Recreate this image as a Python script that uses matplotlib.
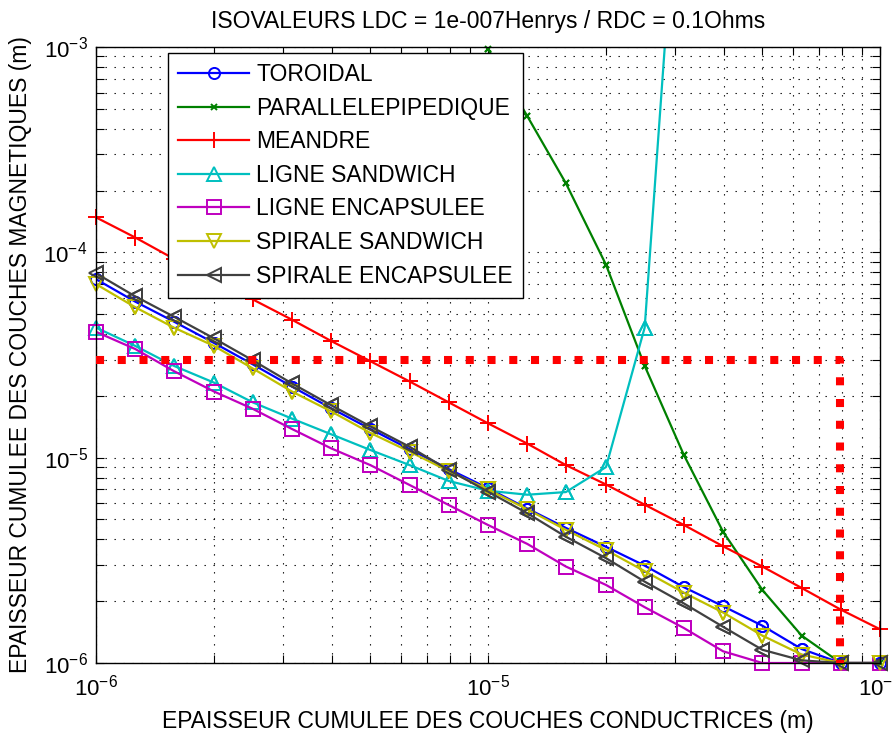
import numpy as np
import matplotlib
matplotlib.use('Agg')
import matplotlib.pyplot as plt

plt.rcParams['font.family'] = ['Liberation Sans', 'DejaVu Sans']
plt.rcParams['axes.unicode_minus'] = False

nan = np.nan
# abscissa: cumulated conductor thickness (m)
x_cond = [1.0e-6, 1.26e-6, 1.58e-6, 2.0e-6, 2.51e-6, 3.16e-6, 3.98e-6, 5.01e-6, 6.31e-6, 7.94e-6,
          1.0e-5, 1.26e-5, 1.58e-5, 2.0e-5, 2.51e-5, 3.16e-5, 3.98e-5, 5.01e-5, 6.31e-5, 7.94e-5, 1.0e-4]

toroidal = [7.4e-5, 5.75e-5, 4.6e-5, 3.62e-5, 2.85e-5, 2.22e-5, 1.74e-5, 1.38e-5, 1.1e-5, 8.8e-6,
            7.1e-6, 5.65e-6, 4.55e-6, 3.68e-6, 2.98e-6, 2.34e-6, 1.89e-6, 1.52e-6, 1.17e-6, 1.0e-6, 1.0e-6]
parallelepipedique = [nan, nan, nan, nan, nan, nan, nan, nan, nan, nan,
                      9.8e-4, 4.6e-4, 2.17e-4, 8.7e-5, 2.8e-5, 1.03e-5, 4.35e-6, 2.27e-6, 1.36e-6, 1.0e-6, 1.0e-6]
meandre = [1.48e-4, 1.18e-4, 9.3e-5, 7.4e-5, 5.9e-5, 4.7e-5, 3.7e-5, 2.95e-5, 2.35e-5, 1.86e-5,
           1.47e-5, 1.17e-5, 9.2e-6, 7.4e-6, 5.9e-6, 4.7e-6, 3.7e-6, 2.95e-6, 2.32e-6, 1.82e-6, 1.46e-6]
ligne_sandwich = [4.3e-5, 3.5e-5, 2.8e-5, 2.32e-5, 1.86e-5, 1.55e-5, 1.3e-5, 1.09e-5, 9.2e-6, 7.7e-6,
                  6.9e-6, 6.6e-6, 6.8e-6, 9.0e-6, 4.3e-5, 2.0e-2, nan, nan, nan, nan, nan]
ligne_encapsulee = [4.1e-5, 3.38e-5, 2.64e-5, 2.1e-5, 1.73e-5, 1.38e-5, 1.11e-5, 9.2e-6, 7.36e-6, 5.88e-6,
                    4.7e-6, 3.8e-6, 2.95e-6, 2.4e-6, 1.87e-6, 1.48e-6, 1.14e-6, 1.0e-6, 1.0e-6, 1.0e-6, 1.0e-6]
spirale_sandwich = [7.0e-5, 5.4e-5, 4.3e-5, 3.5e-5, 2.72e-5, 2.1e-5, 1.68e-5, 1.32e-5, 1.07e-5, 8.6e-6,
                    7.0e-6, 5.6e-6, 4.45e-6, 3.55e-6, 2.8e-6, 2.2e-6, 1.76e-6, 1.36e-6, 1.1e-6, 1.0e-6, 1.0e-6]
spirale_encapsulee = [7.9e-5, 6.1e-5, 4.86e-5, 3.81e-5, 2.98e-5, 2.3e-5, 1.8e-5, 1.42e-5, 1.13e-5, 8.7e-6,
                      6.83e-6, 5.36e-6, 4.12e-6, 3.24e-6, 2.49e-6, 1.95e-6, 1.5e-6, 1.16e-6, 1.03e-6, 1.0e-6, 1.0e-6]

# design limit (red dotted)
limit_x = [1.0e-6, 7.9e-5, 7.9e-5]
limit_y = [3.0e-5, 3.0e-5, 1.0e-6]

labels = ["TOROIDAL", "PARALLELEPIPEDIQUE", "MEANDRE", "LIGNE SANDWICH",
          "LIGNE ENCAPSULEE", "SPIRALE SANDWICH", "SPIRALE ENCAPSULEE"]
values = [toroidal, parallelepipedique, meandre, ligne_sandwich,
          ligne_encapsulee, spirale_sandwich, spirale_encapsulee]
colors = ['#0000FF', '#008000', '#FF0000', '#00BFBF', '#BF00BF', '#BFBF00', '#404040']
markers = ['o', 'x', '+', '^', 's', 'v', '<']
msizes = [8, 5, 11, 9.5, 9.5, 9.5, 9.5]

W, H = 892, 739
fig = plt.figure(figsize=(W / 100, H / 100), dpi=100)
ax = fig.add_axes([96 / W, 1 - 663 / H, 784 / W, 616 / H])
ax.set_xscale('log')
ax.set_yscale('log')
ax.set_xlim(1e-6, 1e-4)
ax.set_ylim(1e-6, 1e-3)

x = np.array(x_cond)
for lab, ys, col, mk, ms in zip(labels, values, colors, markers, msizes):
    ys = np.array(ys, dtype=float)
    ax.plot(x, ys, color=col, lw=1.6, marker=mk, ms=ms, mfc='none', mec=col,
            mew=1.4, label=lab, zorder=2)
    m = np.isfinite(ys) & (ys >= 1e-6) & (ys <= 1e-3)
    ax.plot(x[m], ys[m], ls='none', marker=mk, ms=ms, mfc='none', mec=col,
            mew=1.4, clip_on=False, zorder=2)

ax.plot(limit_x, limit_y, color='#FF0000', lw=5.8, ls=(0, (1.0, 1.7)),
        dash_capstyle='butt', zorder=3)

ax.set_axisbelow(True)
ax.grid(True, which='both', color='black', lw=0.8, ls=(0, (1.2, 6.9)))
ax.tick_params(which='both', direction='in', top=True, right=True,
               length=6, width=0.8, labelsize=16)
ax.tick_params(axis='x', which='both', pad=8)
ax.tick_params(axis='y', which='both', pad=6)
for s in ax.spines.values():
    s.set_linewidth(1.0)

ax.set_title("ISOVALEURS LDC = 1e-007Henrys / RDC = 0.1Ohms", fontsize=16.5, pad=14)
ax.set_xlabel("EPAISSEUR CUMULEE DES COUCHES CONDUCTRICES (m)", fontsize=16.5, labelpad=7)
ax.set_ylabel("EPAISSEUR CUMULEE DES COUCHES MAGNETIQUES (m)", fontsize=16.5, labelpad=8)

leg = ax.legend(loc='upper left', bbox_to_anchor=(168 / W, 1 - 53 / H),
                bbox_transform=fig.transFigure, borderaxespad=0, fontsize=16.5,
                frameon=True, fancybox=False, edgecolor='black', framealpha=1,
                handlelength=3.1, handletextpad=0.3, labelspacing=0.46,
                borderpad=0.45, numpoints=1)
leg.get_frame().set_linewidth(1.0)

fig.savefig('out.png', dpi=100)
